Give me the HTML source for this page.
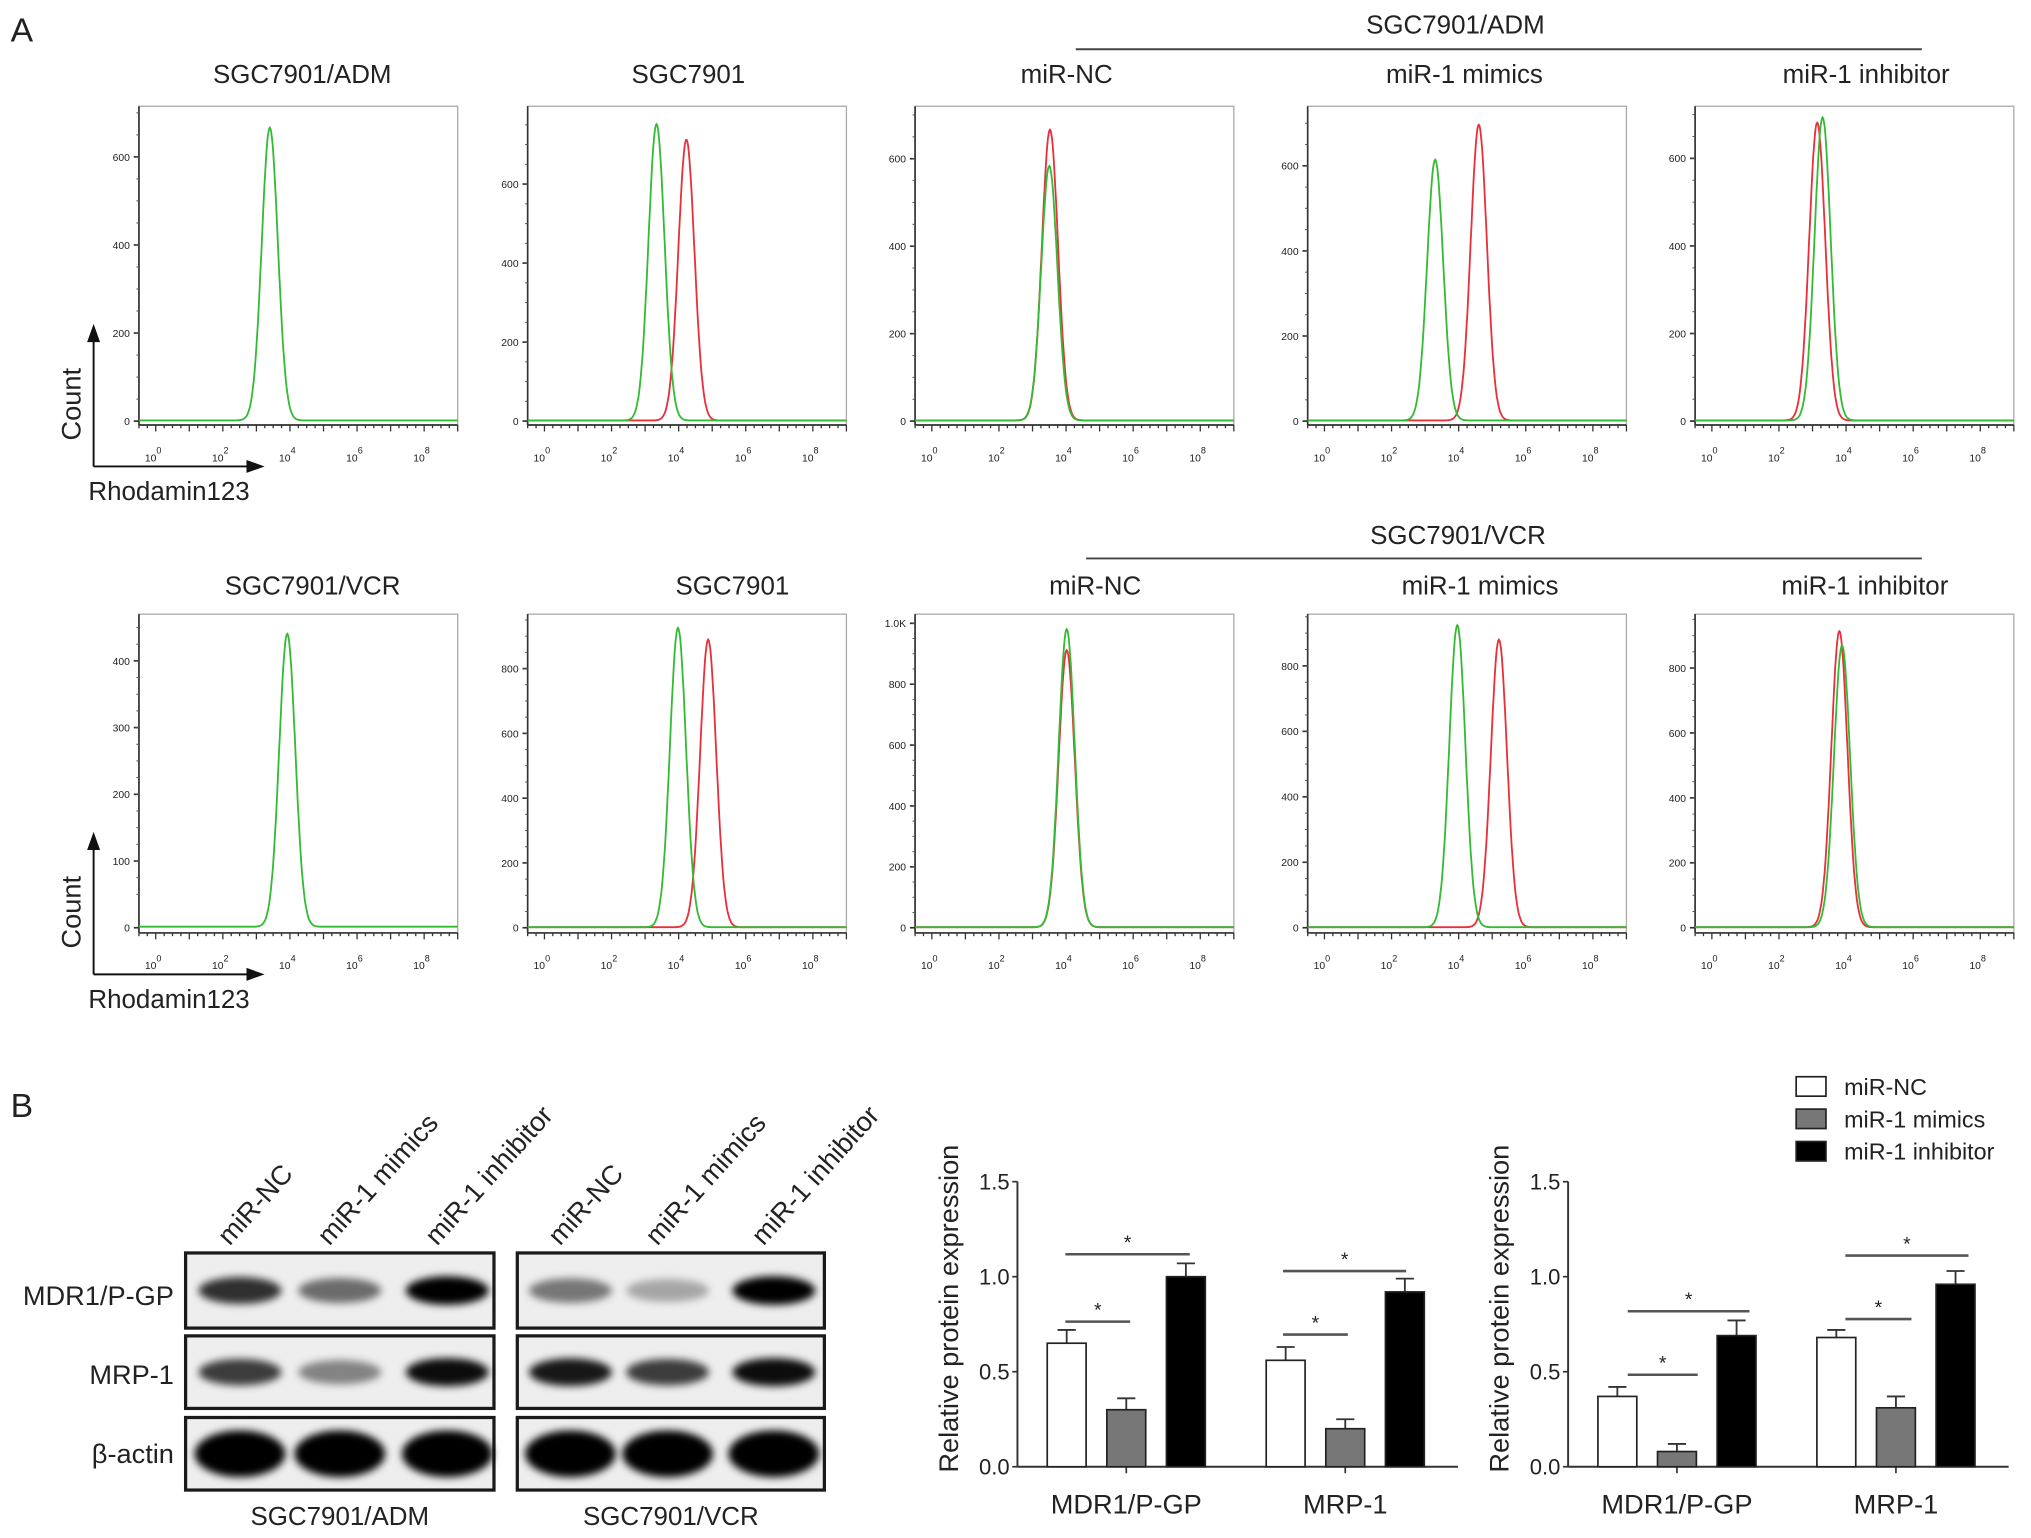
<!DOCTYPE html>
<html><head><meta charset="utf-8"><style>
html,body{margin:0;padding:0;background:#fff;}
svg{display:block;font-family:"Liberation Sans",Arial,sans-serif;}
</style></head><body>
<svg id="fig" width="2031" height="1538" viewBox="0 0 1567 1187" xmlns="http://www.w3.org/2000/svg">
<defs><filter id="blur" x="-50%" y="-50%" width="200%" height="200%"><feGaussianBlur stdDeviation="3"/></filter></defs>
<g id="root"></g>
</svg>
<script>
// ---------- Flow histogram data ----------
const flowTitles = ["SGC7901/ADM","SGC7901","miR-NC","miR-1 mimics","miR-1 inhibitor","SGC7901/VCR","SGC7901","miR-NC","miR-1 mimics","miR-1 inhibitor"];
const flowYMax = [715,797,720,740,719,470,968,1030,958,966];
const flowYTicks = [[0,200,400,600],[0,200,400,600],[0,200,400,600],[0,200,400,600],[0,200,400,600],[0,100,200,300,400],[0,200,400,600,800],[0,200,400,600,800,1000],[0,200,400,600,800],[0,200,400,600,800]];
const greenPeakPos = [3.4,3.34,3.5,3.3,3.3,3.92,3.98,4.02,3.96,3.88];
const greenPeakH = [665,750,582,613,692,439,924,979,923,868];
const redPeakPos = [null,4.23,3.52,4.6,3.14,null,4.88,4.02,5.2,3.8];
const redPeakH = [null,711,665,695,680,null,888,910,879,912];
const xDecades = [0,2,4,6,8];

// ---------- Bar chart data ----------
const barCategories = ["MDR1/P-GP","MRP-1"];
const barSeries = ["miR-NC","miR-1 mimics","miR-1 inhibitor"];
const admValues = [[0.65,0.30,1.00],[0.56,0.20,0.92]];
const admErrors = [[0.07,0.06,0.07],[0.07,0.05,0.07]];
const vcrValues = [[0.37,0.08,0.69],[0.68,0.31,0.96]];
const vcrErrors = [[0.05,0.04,0.08],[0.04,0.06,0.07]];
const barYTicks = [0.0,0.5,1.0,1.5];

// ---------- Western blot intensities ----------
const blotRows = ["MDR1/P-GP","MRP-1","β-actin"];
const blotLanes = ["miR-NC","miR-1 mimics","miR-1 inhibitor"];
const admBand = [[0.8,0.55,1],[0.75,0.45,0.95],[1,1,1]];
const vcrBand = [[0.5,0.3,1],[0.9,0.75,0.95],[1,1,1]];

const NS="http://www.w3.org/2000/svg";
const root=document.getElementById('root');
function mk(tag,attrs,parent){const e=document.createElementNS(NS,tag);for(const k in attrs)e.setAttribute(k,attrs[k]);(parent||root).appendChild(e);return e;}
function txt(x,y,s,size,anchor,parent,extra){const t=mk('text',Object.assign({x:x,y:y,'font-size':size,'text-anchor':anchor||'middle',fill:'#222'},extra||{}),parent);t.textContent=s;return t;}

let tA=txt(8,32,"A",26,'start');


let tB=txt(8,862,"B",26,'start');



[[1123,26,830,1483,38,"SGC7901/ADM"],[1125,420,838,1483,431,"SGC7901/VCR"]].forEach((h,i)=>{
  const g=mk('g',{});
  
  
  txt(h[0],h[1],h[5],20,'middle',g);
  mk('line',{x1:h[2],x2:h[3],y1:h[4],y2:h[4],stroke:'#444','stroke-width':1.5},g);
});

const panelX=[107,407,706,1009,1308];
const titleX=[233,531,823,1130,1440,241,565,845,1142,1439];
const PW=246;
function gauss(x,m,s){return Math.exp(-0.5*((x-m)/s)*((x-m)/s));}
for(let i=0;i<10;i++){
  const row=Math.floor(i/5), col=i%5;
  const x0=panelX[col], top=row?474:82, bot=row?720:328, zero=row?716:325;
  const g=mk('g',{});
  
  
  const tt=txt(titleX[i],row?459:64,flowTitles[i],20,'middle',g);
  
  
  mk('rect',{x:x0,y:top,width:PW,height:bot-top,fill:'none',stroke:'#aaa','stroke-width':1},g);
  mk('line',{x1:x0,x2:x0,y1:top,y2:bot,stroke:'#333','stroke-width':1.3},g);
  mk('line',{x1:x0,x2:x0+PW,y1:bot,y2:bot,stroke:'#333','stroke-width':1.3},g);
  const ys=v=>zero-v*(zero-top)/flowYMax[i];
  const xs=d=>x0+(d+0.5)*PW/9.5;
  flowYTicks[i].forEach(v=>{
    mk('line',{x1:x0-4,x2:x0,y1:ys(v),y2:ys(v),stroke:'#333','stroke-width':1.3},g);
    txt(x0-7,ys(v)+3,v===1000?"1.0K":String(v),8,'end',g);
  });
  for(let v=50;v<flowYMax[i];v+=(flowYTicks[i][1]/4)) mk('line',{x1:x0-2,x2:x0,y1:ys(v),y2:ys(v),stroke:'#555','stroke-width':0.8},g);
  for(let d=-0.5;d<=9;d+=0.25) mk('line',{x1:xs(d),x2:xs(d),y1:bot,y2:bot+(Math.abs(d-Math.round(d))<0.01?5:2.5),stroke:'#333','stroke-width':1},g);
  xDecades.forEach(d=>{
    const t=txt(xs(d)-2,bot+28,"10",8,'middle',g);
    const s=mk('tspan',{dy:-6,'font-size':7},t); s.textContent=String(d);
  });
  const curve=(m,h,color,name)=>{
    let p="";
    for(let d=-0.5;d<=9.001;d+=0.02){const v=h*gauss(d,m,0.24)+1.5;p+=(p?"L":"M")+xs(d).toFixed(1)+","+ys(v).toFixed(1);}
    const pa=mk('path',{d:p,fill:'none',stroke:color,'stroke-width':1.4},g);
    
    
  };
  if(redPeakPos[i]!==null) curve(redPeakPos[i],redPeakH[i],'#e8303a','red-histogram');
  curve(greenPeakPos[i],greenPeakH[i],'#33bb33','green-histogram');
  if(col===0){
    const ag=mk('g',{},g);
    
    
    const ay=bot+32, ax=72;
    mk('line',{x1:ax,x2:ax,y1:ay,y2:top+172,stroke:'#111','stroke-width':1.5},ag);
    mk('path',{d:`M${ax-5},${top+182}L${ax},${top+168}L${ax+5},${top+182}Z`,fill:'#111'},ag);
    mk('line',{x1:ax,x2:ax+122,y1:ay,y2:ay,stroke:'#111','stroke-width':1.5},ag);
    mk('path',{d:`M${ax+118},${ay-5}L${ax+132},${ay}L${ax+118},${ay+5}Z`,fill:'#111'},ag);
    txt(ax-17,ay-48,"Count",21,'middle',ag,{transform:`rotate(-90 ${ax-17} ${ay-48})`,dy:7});
    txt(ax-4,ay+26,"Rhodamin123",20,'start',ag);
  }
}

function barChart(ox,values,errors,sigs,name){
  const g=mk('g',{});
  
  
  const zero=1132, k=(1132-912)/1.5, right=ox+340;
  const ys=v=>zero-v*k;
  mk('line',{x1:ox,x2:ox,y1:ys(1.5),y2:zero,stroke:'#333','stroke-width':1.5},g);
  mk('line',{x1:ox,x2:right,y1:zero,y2:zero,stroke:'#333','stroke-width':1.5},g);
  barYTicks.forEach(v=>{mk('line',{x1:ox-4,x2:ox,y1:ys(v),y2:ys(v),stroke:'#333','stroke-width':1.3},g);txt(ox-6,ys(v)+6,v.toFixed(1),17,'end',g);});
  const yt=txt(ox-53,1010,"Relative protein expression",21,'middle',g,{transform:`rotate(-90 ${ox-53} 1010)`,dy:7});
  
  
  const fills=['#fff','#777','#000'];
  const groupStart=[ox+23,ox+192];
  barCategories.forEach((c,ci)=>{
    const gx=groupStart[ci];
    mk('line',{x1:gx+61,x2:gx+61,y1:zero,y2:zero+5,stroke:'#333','stroke-width':1.3},g);
    txt(gx+61,zero+36,c,21,'middle',g);
    values[ci].forEach((v,si)=>{
      const bx=gx+si*46, top=ys(v), et=ys(v+errors[ci][si]);
      mk('line',{x1:bx+15,x2:bx+15,y1:top,y2:et,stroke:'#333','stroke-width':1.4},g);
      mk('line',{x1:bx+8,x2:bx+22,y1:et,y2:et,stroke:'#333','stroke-width':1.4},g);
      const r=mk('rect',{x:bx,y:top,width:30,height:zero-top,fill:fills[si],stroke:'#222','stroke-width':1.3},g);
      
      
    });
  });
  sigs.forEach(s=>{mk('line',{x1:s[0],x2:s[1],y1:s[2],y2:s[2],stroke:'#555','stroke-width':2},g);txt((s[0]+s[1])/2,s[2]-4,"*",15,'middle',g);});
}
barChart(785,admValues,admErrors,[[822,872,1020],[822,918,968],[990,1040,1030],[990,1085,981]],'bar-chart-adm');
barChart(1210,vcrValues,vcrErrors,[[1256,1310,1061],[1256,1350,1012],[1424,1475,1018],[1424,1519,969]],'bar-chart-vcr');

const lg=mk('g',{});


barSeries.forEach((s,i)=>{
  const y=839+i*25;
  mk('rect',{x:1386,y:y-8,width:23,height:15,fill:['#fff','#777','#000'][i],stroke:'#222','stroke-width':1.3},lg);
  txt(1423,y+6,s,18,'start',lg);
});

function blot(x0,w,band,lanes,name,label){
  const g=mk('g',{});
  
  
  const rowsY=[[967,1025],[1031,1087],[1094,1150]];
  rowsY.forEach((ry,ri)=>{
    mk('rect',{x:x0,y:ry[0],width:w,height:ry[1]-ry[0],fill:'#eeeeee',stroke:'#1a1a1a','stroke-width':2.5},g);
    lanes.forEach((lx,li)=>{
      const v=band[ri][li];
      const e=mk('ellipse',{cx:lx,cy:(ry[0]+ry[1])/2,rx:ri==2?35:32,ry:ri==2?18:8+v*3,fill:'#000','fill-opacity':v,filter:'url(#blur)'},g);
      
      
    });
  });
  txt(x0+w/2,1177,label,20,'middle',g);
  lanes.forEach((lx,li)=>{
    txt(lx-8,962,blotLanes[li],21,'start',g,{transform:`rotate(-48 ${lx-8} 962)`});
  });
}
blot(143,238,admBand,[185,262,345],'western-blot-adm','SGC7901/ADM');
blot(399,237,vcrBand,[440,515,597],'western-blot-vcr','SGC7901/VCR');
const rl=mk('g',{});


[1007,1068,1129].forEach((y,i)=>txt(134,y,blotRows[i],21,'end',rl));
</script>
</body></html>
